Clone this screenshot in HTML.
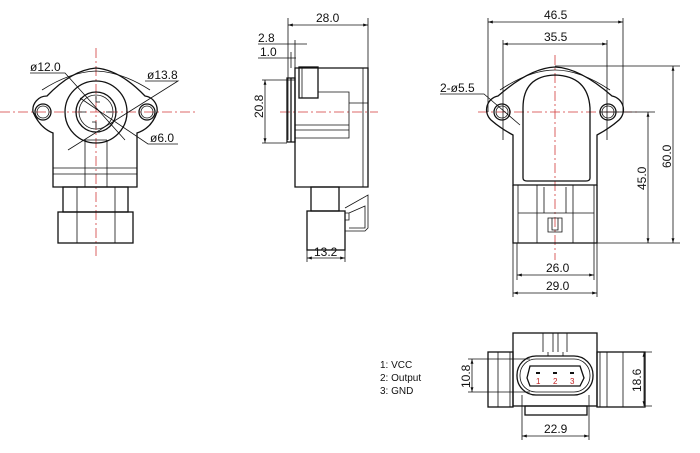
<!DOCTYPE html>
<html><head><meta charset="utf-8"><style>
html,body{margin:0;padding:0;background:#fff}
svg{display:block}
text{font-family:"Liberation Sans",sans-serif;font-size:12px;fill:#111}
.k{stroke:#111;stroke-width:1.3;fill:none}
.t{stroke:#111;stroke-width:0.8;fill:none}
.r{stroke:#d23a3a;stroke-width:0.8;fill:none;stroke-dasharray:10 3 2 3}
</style></head><body>
<svg width="700" height="453" viewBox="0 0 700 453" xmlns="http://www.w3.org/2000/svg">
<defs><marker id="a" viewBox="0 0 10 10" refX="10" refY="5" markerWidth="6" markerHeight="6" orient="auto-start-reverse"><path d="M0,2 L10,5 L0,8 z" fill="#111"/></marker></defs>

<!-- VIEW 1 -->
<line class="r" x1="0" y1="112" x2="195" y2="112"/>
<line class="r" x1="96" y1="48" x2="96" y2="258"/>
<path class="k" d="M53,133 L53,187 L137,187 L137,133 Q152,128 157,112 A14,14 0 0 0 145,96 Q120,70 96,68 Q72,70 47,96 A14,14 0 0 0 33,112 Q40,128 53,133 Z"/>
<path class="t" d="M42,90 Q70,72 96,71 Q122,72 150,90"/>
<circle class="k" cx="43" cy="112" r="8"/><circle class="t" cx="43" cy="112" r="6"/>
<circle class="k" cx="147" cy="112" r="8"/><circle class="t" cx="147" cy="112" r="6"/>
<circle class="k" cx="96" cy="112" r="31"/>
<circle class="k" cx="96" cy="112" r="20"/><circle class="t" cx="96" cy="112" r="17"/>
<path class="t" d="M96,96 l0,6 l4,0 M96,128 l0,-6 l-4,0 M80,112 l6,0 M112,112 l-6,0"/>
<path class="t" d="M53,168 L137,168 M53,174 L137,174 M85,140 L85,187 M107,140 L107,187 M85,140 L107,140"/>
<rect class="k" x="63" y="187" width="65" height="25"/>
<rect class="k" x="58" y="212" width="75" height="31"/>
<path class="t" d="M77,187 L77,243 M115,187 L115,243"/>
<text x="30" y="71">ø12.0</text><path class="t" d="M30,73 L65,73 L125,140"/>
<text x="147" y="79">ø13.8</text><path class="t" d="M145,81 L178,81 L68,150"/>
<text x="150" y="142">ø6.0</text><path class="t" d="M178,144 L148,144 L80,98"/>

<!-- VIEW 2 -->
<line class="r" x1="280" y1="112" x2="378" y2="112"/>
<path class="t" d="M288,18 L288,140 M368,18 L368,68"/>
<line class="t" x1="288" y1="25" x2="368" y2="25" marker-start="url(#a)" marker-end="url(#a)"/><text x="316" y="22">28.0</text>
<path class="t" d="M258,44 L307,44 M258,58 L296,58 M295,40 L295,68 M291,52 L291,68"/><text x="258" y="42">2.8</text><text x="260" y="56">1.0</text>
<path class="k" d="M287,78 L287,142 L295,142 L295,78 Z M291,78 L291,142"/>
<rect class="k" x="299" y="67" width="19" height="31"/><path class="t" d="M302,67 L302,98"/>
<path class="k" d="M295,68 L368,68 L368,187 L295,187 Z"/>
<path class="t" d="M318,92 L349,92 L349,138 L295,138 M295,125 L349,125 M295,130 L349,130 M349,103 L368,103 M363,68 L363,187"/>
<path class="t" d="M262,80 L295,80 M262,143 L287,143"/>
<line class="t" x1="265" y1="80" x2="265" y2="143" marker-start="url(#a)" marker-end="url(#a)"/>
<text transform="translate(263,118) rotate(-90)">20.8</text>
<rect class="k" x="311" y="187" width="28" height="24"/>
<rect class="k" x="307" y="211" width="38" height="39"/>
<path class="t" d="M345,208 L368,195 L368,228 L365,231 L345,231 M349,213 L365,206 L365,228 L349,228 M345,213 L349,213 L349,220 L345,220"/>
<path class="t" d="M307,250 L307,262 M345,250 L345,262"/>
<line class="t" x1="307" y1="258" x2="345" y2="258" marker-start="url(#a)" marker-end="url(#a)"/><text x="314" y="256">13.2</text>

<!-- VIEW 3 -->
<line class="r" x1="478" y1="112" x2="640" y2="112"/>
<line class="r" x1="555" y1="55" x2="555" y2="260"/>
<path class="t" d="M488,18 L488,112 M623,18 L623,112 M503,40 L503,140 M607,40 L607,140"/>
<line class="t" x1="488" y1="22" x2="623" y2="22" marker-start="url(#a)" marker-end="url(#a)"/><text x="544" y="19">46.5</text>
<line class="t" x1="503" y1="44" x2="607" y2="44" marker-start="url(#a)" marker-end="url(#a)"/><text x="544" y="41">35.5</text>
<path class="k" d="M513,185 L597,185 L597,135 Q610,128 619,120 A14,14 0 0 0 612,96 Q580,68 555,67 Q530,68 498,96 A14,14 0 0 0 491,120 Q500,128 513,135 Z"/>
<path class="t" d="M500,90 Q530,70 555,70 Q580,70 610,90"/>
<circle class="k" cx="502" cy="112" r="8"/><circle class="t" cx="502" cy="112" r="6"/>
<circle class="k" cx="608" cy="112" r="8"/><circle class="t" cx="608" cy="112" r="6"/>
<path class="k" d="M523,178 L523,108 Q523,76 555,75 Q588,76 590,108 L590,178 Q590,181 586,181 L527,181 Q523,181 523,178 Z"/>
<path class="k" d="M513,185 L513,243 L597,243 L597,185"/>
<path class="t" d="M518,185 L518,243 M594,185 L594,243 M537,185 L537,243 M573,185 L573,243 M518,213 L594,213 M544,187 L544,213 M566,187 L566,213 M548,218 L548,232 L562,232 L562,218 Z M552,218 L552,230 L558,230 L558,218"/>
<path class="t" d="M555,66 L680,66 M600,112 L655,112 M597,243 L680,243"/>
<line class="t" x1="673" y1="66" x2="673" y2="243" marker-start="url(#a)" marker-end="url(#a)"/><text transform="translate(671,168) rotate(-90)">60.0</text>
<line class="t" x1="648" y1="112" x2="648" y2="243" marker-start="url(#a)" marker-end="url(#a)"/><text transform="translate(646,190) rotate(-90)">45.0</text>
<path class="t" d="M517,243 L517,280 M594,243 L594,280 M513,243 L513,297 M597,243 L597,297"/>
<line class="t" x1="517" y1="275" x2="594" y2="275" marker-start="url(#a)" marker-end="url(#a)"/><text x="546" y="272">26.0</text>
<line class="t" x1="513" y1="293" x2="597" y2="293" marker-start="url(#a)" marker-end="url(#a)"/><text x="546" y="290">29.0</text>
<text x="440" y="92">2-ø5.5</text><path class="t" d="M440,94 L484,94 L520,125"/>

<!-- BOTTOM VIEW -->
<text x="380" y="368" style="font-size:10px">1: VCC</text>
<text x="380" y="381" style="font-size:10px">2: Output</text>
<text x="380" y="394" style="font-size:10px">3: GND</text>
<rect class="k" x="513" y="333" width="84" height="73"/>
<rect class="k" x="488" y="352" width="25" height="55"/>
<rect class="k" x="597" y="352" width="48" height="55"/>
<path class="t" d="M498,352 L498,407 M510,352 L510,407 M600,352 L600,407 M607,352 L607,407 M623,352 L623,407"/>
<path class="t" d="M543,333 L543,352 M567,333 L567,352 M553,333 L553,352 M558,333 L558,352 M548,352 L548,356 M563,352 L563,356"/>
<rect class="k" x="517" y="356" width="76" height="39" rx="19"/>
<rect class="t" x="520" y="359" width="70" height="33" rx="16"/>
<path class="k" d="M530,366 L580,366 L584,378 L580,386 L530,386 L527,378 Z"/>
<g fill="#111"><rect x="536" y="372" width="4" height="2"/><rect x="553" y="372" width="4" height="2"/><rect x="570" y="372" width="4" height="2"/></g>
<text x="536" y="384" style="fill:#c02020;font-size:8px">1</text><text x="553" y="384" style="fill:#c02020;font-size:8px">2</text><text x="570" y="384" style="fill:#c02020;font-size:8px">3</text>
<rect class="k" x="525" y="406" width="62" height="9"/>
<path class="t" d="M468,359 L530,359 M468,392 L530,392 M645,352 L652,352 M645,406 L652,406 M522,395 L522,440 M589,395 L589,440"/>
<line class="t" x1="472" y1="359" x2="472" y2="392" marker-start="url(#a)" marker-end="url(#a)"/><text transform="translate(470,388) rotate(-90)">10.8</text>
<line class="t" x1="644" y1="352" x2="644" y2="406" marker-start="url(#a)" marker-end="url(#a)"/><text transform="translate(641,392) rotate(-90)">18.6</text>
<line class="t" x1="522" y1="436" x2="589" y2="436" marker-start="url(#a)" marker-end="url(#a)"/><text x="544" y="433">22.9</text>
</svg>
</body></html>
